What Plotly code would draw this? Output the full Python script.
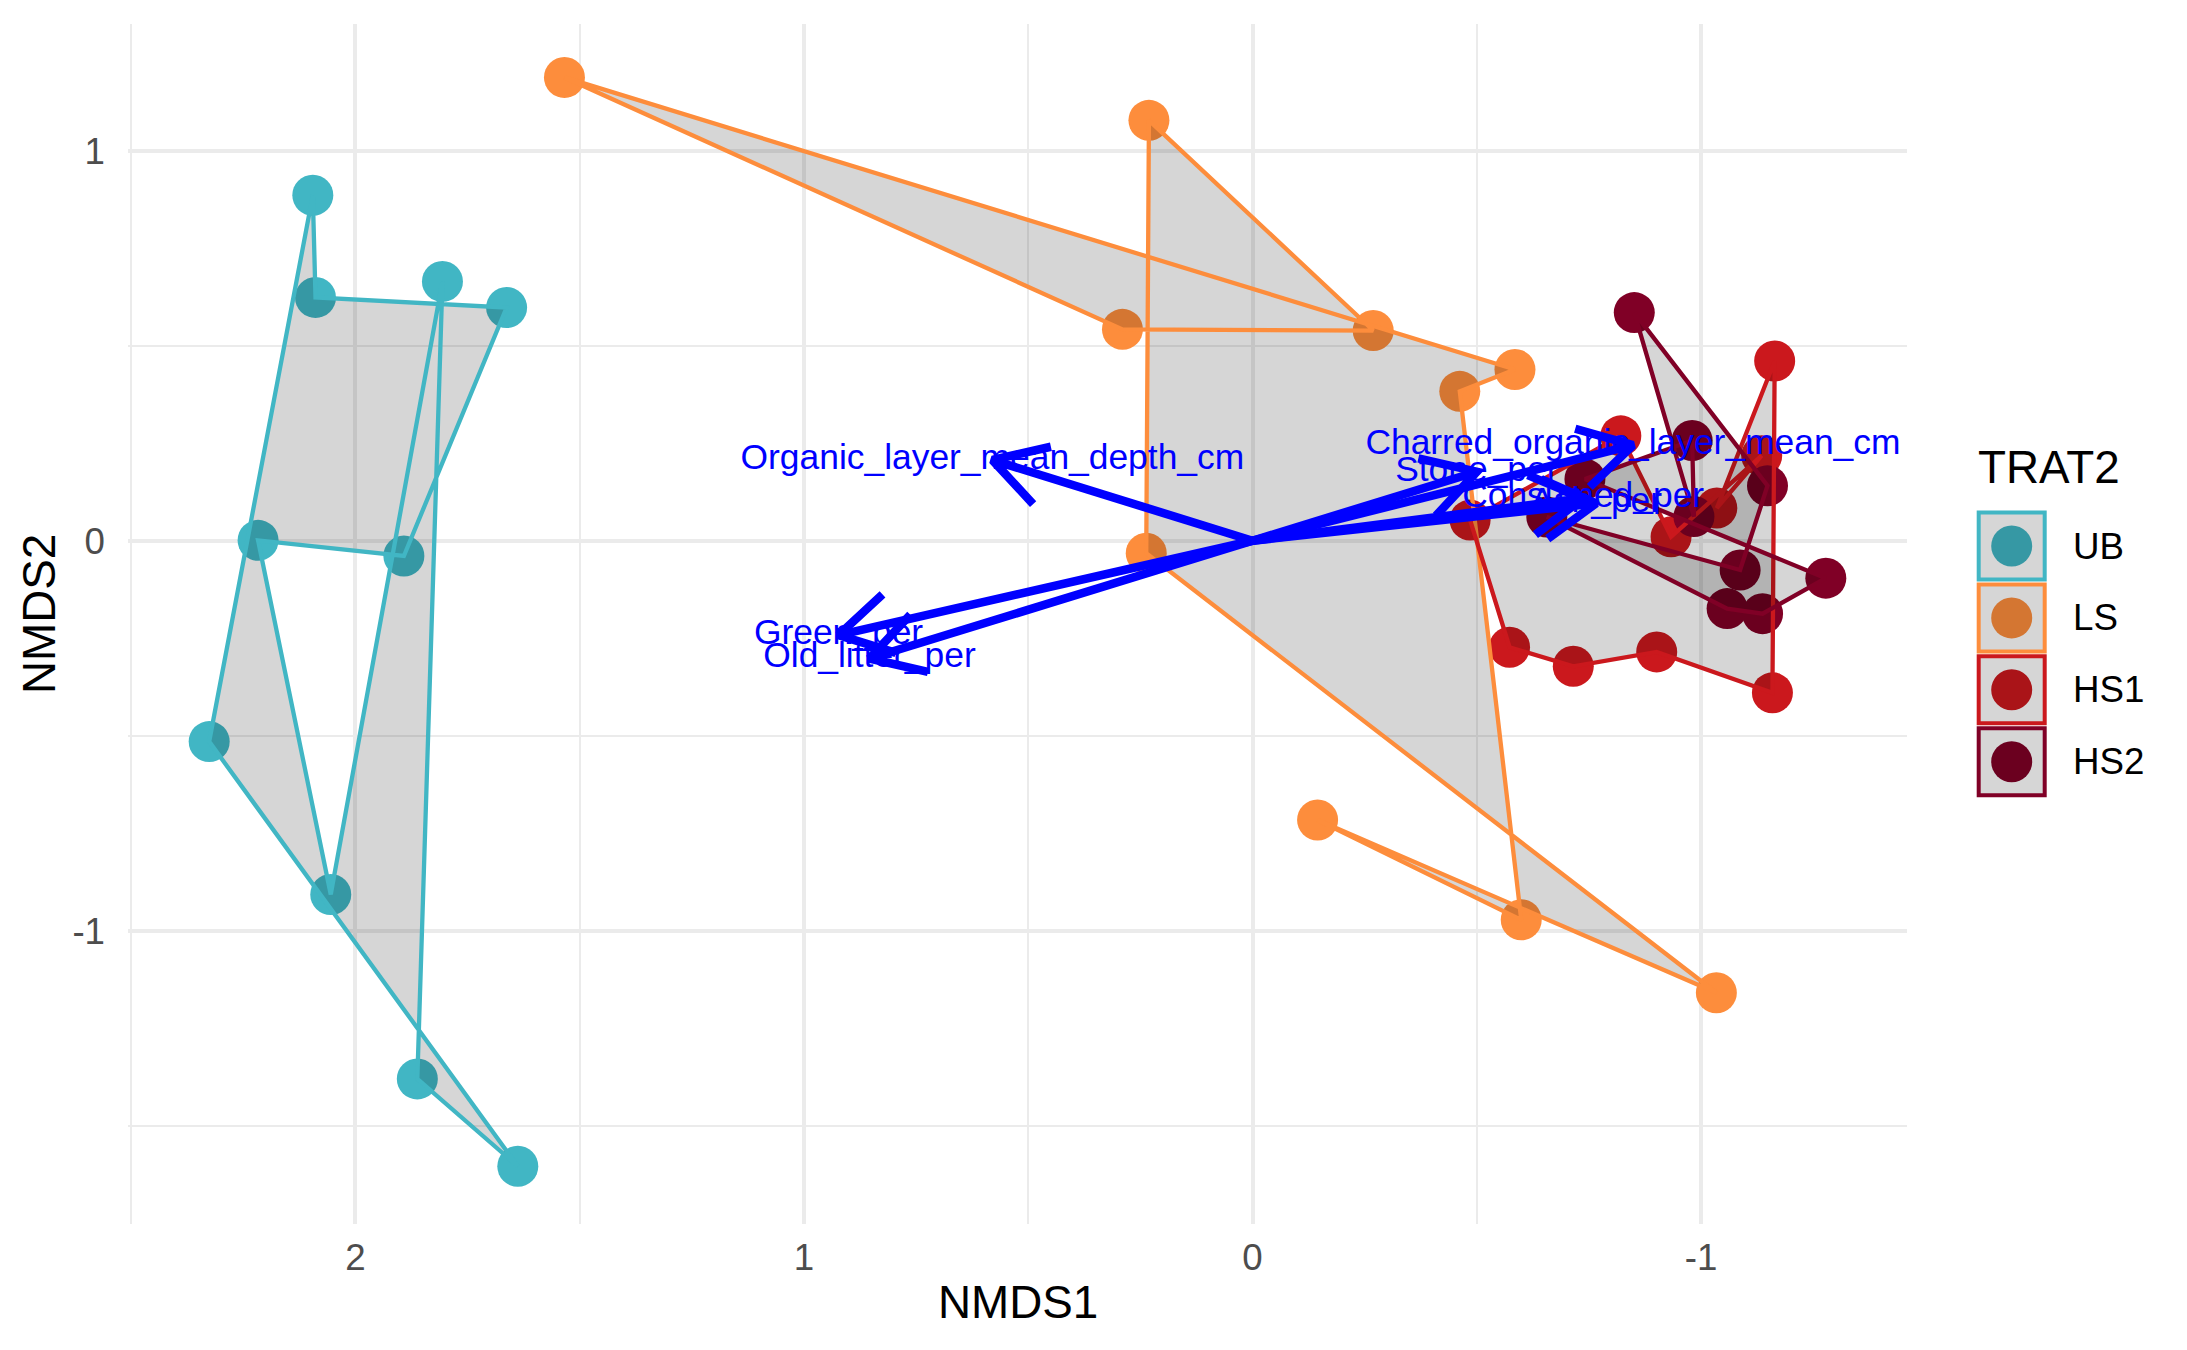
import math
import plotly.graph_objects as go

# ---------------- data ----------------
groups = ["UB", "LS", "HS1", "HS2"]
group_colors = ["#41B6C4", "#FD8D3C", "#CB181D", "#800026"]

# site scores in polygon (row) order
ub_x = [2.095, 2.089, 1.663, 1.892, 2.217, 2.055, 1.806, 1.862, 1.638, 2.326]
ub_y = [0.886, 0.624, 0.598, -0.039, 0.001, -0.907, 0.665, -1.380, -1.604, -0.515]

ls_x = [1.534, 0.290, -0.269, 0.231, 0.237, -1.034, -0.145, -0.599, -0.462, -0.585]
ls_y = [1.188, 0.542, 0.539, 1.078, -0.032, -1.159, -0.716, -0.972, 0.383, 0.439]

hs1_x = [-1.164, -1.159, -0.901, -0.715, -0.573, -0.485, -0.821, -0.933, -1.135, -1.035]
hs1_y = [0.461, -0.390, -0.285, -0.322, -0.273, 0.053, 0.269, 0.010, 0.218, 0.084]

hs2_x = [-0.851, -1.148, -1.087, -0.656, -1.058, -1.137, -1.278, -0.741, -0.980, -0.984]
hs2_y = [0.585, 0.141, -0.075, 0.061, -0.174, -0.187, -0.096, 0.158, 0.257, 0.062]

# environmental vectors (arrow tips)
vec_names = ["Organic_layer_mean_depth_cm", "Green_per", "Old_litter_per",
             "Charred_organic_layer_mean_cm", "Stone_per", "Consumed_per", "Ash_per"]
vec_x = [0.580, 0.923, 0.854, -0.848, -0.500, -0.737, -0.766]
vec_y = [0.207, -0.242, -0.302, 0.245, 0.177, 0.109, 0.096]

x_tick_vals = [2, 1, 0, -1]
x_tick_text = ["2", "1", "0", "-1"]
y_tick_vals = [1, 0, -1]
y_tick_text = ["1", "0", "-1"]

group_x = [ub_x, ls_x, hs1_x, hs2_x]
group_y = [ub_y, ls_y, hs1_y, hs2_y]

# ---------------- layout geometry ----------------
W, H = 2187, 1350
ML, MR, MT, MB = 128, 280, 24, 126
XR = [2.507, -1.459]
YR = [-1.752, 1.325]
PW = W - ML - MR
PH = H - MT - MB
kx = PW / abs(XR[1] - XR[0])   # px per data unit (x)
ky = PH / (YR[1] - YR[0])      # px per data unit (y)

FONT = "Liberation Sans, Arial, Helvetica, sans-serif"
fill_rgba = "rgba(0,0,0,0.16)"

fig = go.Figure()

# points
for g, c, xs, ys in zip(groups, group_colors, group_x, group_y):
    fig.add_trace(go.Scatter(
        x=xs, y=ys, mode="markers", name=g,
        marker=dict(size=41, color=c, line=dict(width=0)),
        showlegend=False, hoverinfo="skip"))

# polygons
for g, c, xs, ys in zip(groups, group_colors, group_x, group_y):
    fig.add_trace(go.Scatter(
        x=list(xs) + [xs[0]], y=list(ys) + [ys[0]], mode="lines",
        fill="toself", fillcolor=fill_rgba,
        line=dict(color=c, width=4.3),
        showlegend=False, hoverinfo="skip"))

# arrows (shaft + open head) computed through the axis scales
head_len = 60.0
head_ang = math.radians(30)
ax_, ay_ = [], []
for tx, ty in zip(vec_x, vec_y):
    ax_ += [0, tx, None]
    ay_ += [0, ty, None]
    sx, sy = -tx * kx, ty * ky  # screen vector (x reversed, y up)
    th = math.atan2(sy, sx)
    legs = []
    for s in (1, -1):
        a = th + math.pi + s * head_ang
        dxs, dys = head_len * math.cos(a), head_len * math.sin(a)
        legs.append((tx - dxs / kx, ty + dys / ky))
    ax_ += [legs[0][0], tx, legs[1][0], None]
    ay_ += [legs[0][1], ty, legs[1][1], None]
fig.add_trace(go.Scatter(x=ax_, y=ay_, mode="lines",
                         line=dict(color="#0000FF", width=8.5),
                         showlegend=False, hoverinfo="skip"))

# vector labels
fig.add_trace(go.Scatter(x=vec_x, y=vec_y, mode="text", text=vec_names,
                         textposition="middle center",
                         textfont=dict(color="#0000FF", size=35.4, family=FONT),
                         showlegend=False, hoverinfo="skip"))

axis_common = dict(
    showline=False, zeroline=False, ticks="",
    showgrid=True, gridcolor="#EBEBEB", gridwidth=3.5,
    tickfont=dict(family=FONT, size=36.7, color="#4D4D4D"),
    tickmode="array",
)
fig.update_xaxes(range=XR, tickvals=x_tick_vals, ticktext=x_tick_text,
                 minor=dict(tickmode="linear", tick0=0, dtick=0.5, showgrid=True,
                            gridcolor="#EBEBEB", gridwidth=1.8),
                 ticklabelstandoff=8, **axis_common)
fig.update_yaxes(range=YR, tickvals=y_tick_vals, ticktext=y_tick_text,
                 minor=dict(tickmode="linear", tick0=0, dtick=0.5, showgrid=True,
                            gridcolor="#EBEBEB", gridwidth=1.8),
                 ticklabelstandoff=22, **axis_common)

def px2paper_x(X):
    return (X - ML) / PW

def px2paper_y(Y):
    return (H - MB - Y) / PH

annotations = [
    dict(text="NMDS1", x=0.5, y=px2paper_y(1302), xref="paper", yref="paper",
         xanchor="center", yanchor="middle", showarrow=False,
         font=dict(family=FONT, size=45.8, color="#000000")),
    dict(text="NMDS2", x=px2paper_x(39), y=px2paper_y(614), xref="paper", yref="paper",
         xanchor="center", yanchor="middle", showarrow=False, textangle=-90,
         font=dict(family=FONT, size=45.8, color="#000000")),
    dict(text="TRAT2", x=px2paper_x(1976), y=px2paper_y(467), xref="paper", yref="paper",
         xanchor="left", yanchor="middle", showarrow=False,
         font=dict(family=FONT, size=45.8, color="#000000")),
]

shapes = []
key_x = 2011.7
for i, (g, c) in enumerate(zip(groups, group_colors)):
    cy = 546 + i * 71.9
    xa, ya = px2paper_x(key_x), px2paper_y(cy)
    shapes.append(dict(type="circle", xref="paper", yref="paper",
                       xsizemode="pixel", ysizemode="pixel",
                       xanchor=xa, yanchor=ya, x0=-20.5, x1=20.5, y0=-20.5, y1=20.5,
                       fillcolor=c, line=dict(width=0), layer="above"))
    shapes.append(dict(type="rect", xref="paper", yref="paper",
                       xsizemode="pixel", ysizemode="pixel",
                       xanchor=xa, yanchor=ya, x0=-33, x1=33, y0=-33.5, y1=33.5,
                       fillcolor=fill_rgba, line=dict(color=c, width=4), layer="above"))
    annotations.append(dict(text=g, x=px2paper_x(2071), y=ya, xref="paper", yref="paper",
                            xanchor="left", yanchor="middle", showarrow=False,
                            font=dict(family=FONT, size=36.7, color="#000000")))

fig.update_layout(
    width=W, height=H, autosize=False,
    margin=dict(l=ML, r=MR, t=MT, b=MB, pad=0),
    plot_bgcolor="#FFFFFF", paper_bgcolor="#FFFFFF",
    showlegend=False,
    annotations=annotations, shapes=shapes,
    font=dict(family=FONT),
)

fig.write_html("out.html")
